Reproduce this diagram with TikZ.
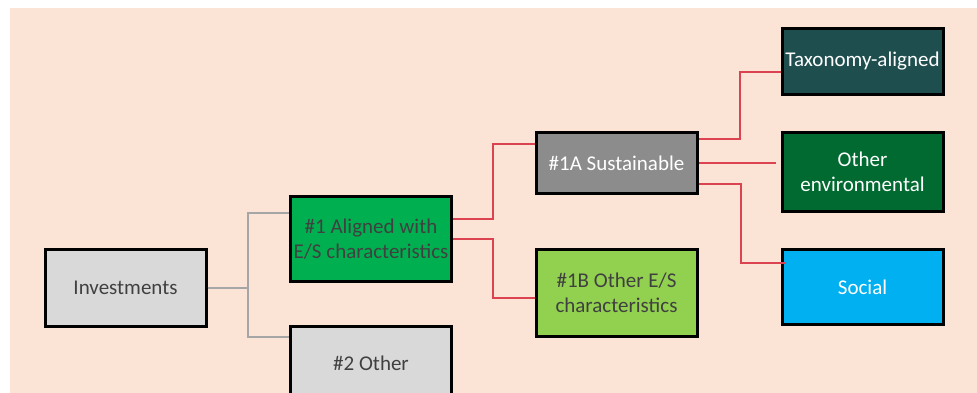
\documentclass[tikz,border=0pt]{standalone}
\usepackage{fontspec}
\setmainfont{Carlito}
\definecolor{peach}{HTML}{FBE3D6}
\definecolor{boxgrey}{HTML}{D9D9D9}
\definecolor{midgrey}{HTML}{8C8C8C}
\definecolor{txtgrey}{HTML}{404040}
\definecolor{aligngreen}{HTML}{00B050}
\definecolor{lightgreen}{HTML}{92D050}
\definecolor{taxteal}{HTML}{1F4E4F}
\definecolor{envgreen}{HTML}{006A30}
\definecolor{socblue}{HTML}{00B0F0}
\definecolor{linkred}{HTML}{DB4350}
\definecolor{linkgrey}{HTML}{A6A6A6}
\tikzset{
  catbox/.style={draw=black, line width=1.5pt, minimum width=80.5pt, inner sep=1pt, align=center, font=\fontsize{10.5}{12.5}\selectfont},
  redlink/.style={draw=linkred, line width=1pt},
  greylink/.style={draw=linkgrey, line width=1pt}
}
\begin{document}
\begin{tikzpicture}[x=0.5pt, y=-0.5pt]
\useasboundingbox (0,0) rectangle (977,392);
\fill[peach] (10,8) rectangle (980,395);

\node[catbox, fill=boxgrey, text=txtgrey, minimum height=38.5pt] (Investments) at (125.5,287.5) {Investments};
\node[catbox, fill=aligngreen, text=txtgrey, minimum height=42.5pt] (Aligned) at (371,239) {\#1 Aligned with\\E/S characteristics};
\node[catbox, fill=boxgrey, text=txtgrey, minimum height=36.5pt] (Other) at (371,363) {\#2 Other};

\node[catbox, fill=midgrey, text=white, minimum height=30.5pt] (Sustainable) at (616.5,163) {\#1A Sustainable};
\node[catbox, fill=lightgreen, text=txtgrey, minimum height=43.5pt] (Other ES) at (616.5,293) {\#1B Other E/S\\characteristics};

\node[catbox, fill=taxteal, text=white, minimum height=33pt] (Taxonomy) at (862.5,61.5) {Taxonomy-aligned};
\node[catbox, fill=envgreen, text=white, minimum height=39.5pt] (Environmental) at (862.5,172) {Other\\environmental};
\node[catbox, fill=socblue, text=white, minimum height=37.5pt] (Social) at (862.5,287) {Social};

\draw[greylink] (Investments.east) -- ++(40,0) |- ([yshift=13pt]Aligned.west);
\draw[greylink] (Investments.east) -- ++(40,0) |- ([yshift=13pt]Other.west);

\draw[redlink] ([yshift=10pt]Aligned.east) -- ++(40,0) |- ([yshift=9.5pt]Sustainable.west);
\draw[redlink] (Aligned.east) -- ++(40,0) |- ([yshift=-2.5pt]Other ES.west);

\draw[redlink] ([yshift=12pt]Sustainable.east) -- ++(41,0) |- ([yshift=-5.25pt]Taxonomy.west);
\draw[redlink] (Sustainable.east) -- ([xshift=-2.5pt]Environmental.west |- Sustainable.east);
\draw[redlink] ([yshift=-10.5pt]Sustainable.east) -- ++(42,0) |- ([xshift=2.5pt, yshift=12pt]Social.west);
\end{tikzpicture}
\end{document}
